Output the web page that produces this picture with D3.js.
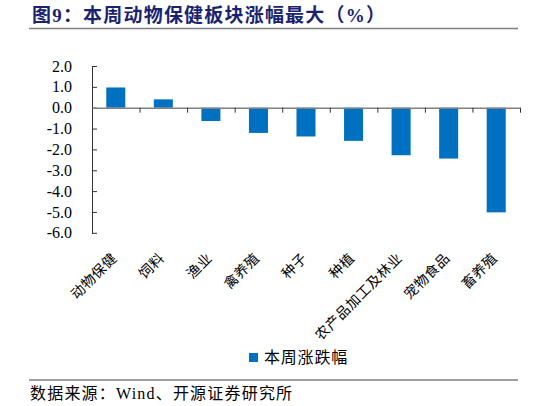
<!DOCTYPE html>
<html>
<head>
<meta charset="utf-8">
<script src="https://cdn.jsdelivr.net/npm/d3@7"></script>
<style>
  body { margin: 0; background: #fff; }
  text { font-family: "Liberation Serif", "Noto Sans CJK SC", serif; }
</style>
</head>
<body>
<div id="chart"></div>
<script>
const categories = ['动物保健', '饲料', '渔业', '禽养殖', '种子', '种植', '农产品加工及林业', '宠物食品', '畜养殖'];
const weeklyChange = [0.97, 0.40, -0.64, -1.21, -1.38, -1.59, -2.28, -2.44, -5.02];
const yTicks = [2, 1, 0, -1, -2, -3, -4, -5, -6];
const seriesName = '本周涨跌幅';
const titleText = '图9：本周动物保健板块涨幅最大（%）';
const sourceText = '数据来源：Wind、开源证券研究所';

const W = 546, H = 406;
const plot = {left: 92, right: 520, top: 66, bottom: 232.8};

const svg = d3.select('#chart')
    .append('svg')
        .attr('width', W)
        .attr('height', H);

// title and rules
svg.append('text')
    .attr('x', 32)
    .attr('y', 22)
    .attr('font-size', 19)
    .attr('font-weight', 'bold')
    .attr('letter-spacing', 1.2)
    .attr('fill', '#1a2370')
    .text(titleText);

svg.append('line')
    .attr('x1', 29).attr('x2', 518)
    .attr('y1', 28.5).attr('y2', 28.5)
    .attr('stroke', '#7f7f7f')
    .attr('stroke-width', 1.5);

svg.append('line')
    .attr('x1', 29).attr('x2', 518)
    .attr('y1', 380).attr('y2', 380)
    .attr('stroke', '#7f7f7f')
    .attr('stroke-width', 1.5);

svg.append('text')
    .attr('x', 30)
    .attr('y', 399)
    .attr('font-size', 16)
    .attr('letter-spacing', 1.2)
    .attr('fill', '#000')
    .text(sourceText);

const x = d3.scaleBand()
    .domain(categories)
    .range([plot.left, plot.right]);

const xEdge = d3.scaleLinear()
    .domain([0, categories.length])
    .range([plot.left, plot.right]);

const y = d3.scaleLinear()
    .domain([-6, 2])
    .range([plot.bottom, plot.top]);

// bars
const bw = x.bandwidth();
svg.append('g')
    .selectAll('rect')
    .data(weeklyChange)
    .enter()
    .append('rect')
    .attr('x', (d, i) => x(categories[i]) + bw * 0.3)
    .attr('width', bw * 0.4)
    .attr('y', d => y(Math.max(d, 0)))
    .attr('height', d => Math.abs(y(d) - y(0)))
    .attr('fill', '#0070c0');

// y axis
const yAxis = d3.axisLeft(y)
    .tickValues(yTicks)
    .tickSizeInner(-5)
    .tickSizeOuter(0)
    .tickPadding(20)
    .tickFormat(d => d.toFixed(1));

const gy = svg.append('g')
    .attr('transform', 'translate(' + plot.left + ',0)')
    .call(yAxis);
gy.select('.domain').attr('stroke', '#333');
gy.selectAll('.tick line').attr('stroke', '#333');
gy.selectAll('.tick text')
    .attr('font-size', 16)
    .attr('font-family', '"Liberation Serif", serif')
    .attr('fill', '#000');

// x axis on zero line
const xAxis = d3.axisBottom(xEdge)
    .tickValues(d3.range(1, categories.length + 1))
    .tickSizeInner(5)
    .tickSizeOuter(0)
    .tickFormat('');

const gx = svg.append('g')
    .attr('transform', 'translate(0,' + y(0) + ')')
    .call(xAxis);
gx.select('.domain').attr('stroke', '#808080').attr('stroke-width', 1.5);
gx.selectAll('.tick line').attr('stroke', '#333');

// category labels
svg.append('g')
    .selectAll('text')
    .data(categories)
    .enter()
    .append('text')
    .attr('transform', d => 'translate(' + (x(d) + bw / 2 + 2) + ',' + 259 + ') rotate(-45)')
    .attr('text-anchor', 'end')
    .attr('font-size', 14)
    .attr('letter-spacing', 0.5)
    .attr('font-family', '"Noto Sans CJK SC", sans-serif')
    .attr('fill', '#000')
    .text(d => d);

// legend
const legend = svg.append('g')
    .attr('transform', 'translate(249,353)');
legend.append('rect')
    .attr('width', 9)
    .attr('height', 9)
    .attr('fill', '#0070c0');
legend.append('text')
    .attr('x', 15)
    .attr('y', 10)
    .attr('font-size', 16)
    .attr('letter-spacing', 0.8)
    .attr('font-family', '"Noto Sans CJK SC", sans-serif')
    .attr('fill', '#000')
    .text(seriesName);
</script>
</body>
</html>
